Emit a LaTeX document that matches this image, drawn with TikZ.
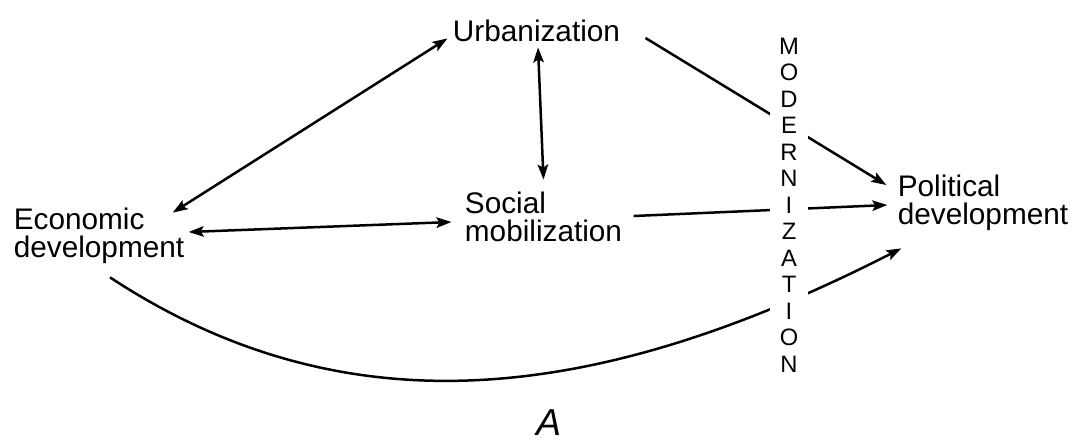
\documentclass[tikz,border=0pt]{standalone}
\usepackage{fontspec}
\setmainfont{Liberation Sans}
\usetikzlibrary{arrows.meta,calc}

\begin{document}
\begin{tikzpicture}[x=0.4pt,y=-0.4pt,>={Stealth[length=6pt,width=4.2pt,inset=1.2pt]},
  box/.style={inner sep=0pt,align=left,font=\fontsize{11.9}{11.2}\selectfont},
  link/.style={line width=1pt}]
  \useasboundingbox (0,0) rectangle (1071,440);
  \node[box] (urb) at (536.5,31) {Urbanization};
  \node[box] (soc) at (543.5,217) {Social\\mobilization};
  \node[box] (econ) at (99,236) {Economic\\development};
  \node[box] (pol) at (983,203) {Political\\development};
  \draw[link,<->] ($(urb.south west)+(-5,-4)$) -- ($(econ.north east)+(-12,5)$);
  \draw[link,<->] ($(urb.south)+(1.5,5)$) -- ($(soc.north)+(0,-12)$);
  \draw[link,<->] ($(econ.east)+(4,-4)$) -- ($(soc.west)+(-13,5)$);
  \draw[link,->] ($(urb.east)+(25,7)$) -- ($(pol.west)+(-11,-18)$);
  \draw[link,->] ($(soc.east)+(11,-1)$) -- ($(pol.west)+(-10,2)$);
  \draw[link,->] ($(econ.south)+(11,13)$) .. controls (350,435) and (602,401) .. ($(pol.south west)+(4,17)$);
  % the word cuts the arrows
  \node[fill=white,inner xsep=3.8pt,inner ysep=0pt,align=center,
    font=\fontsize{9.5}{10.6}\selectfont] (mod) at (789,205)
    {M\\O\\D\\E\\R\\N\\I\\Z\\A\\T\\I\\O\\N};
  \node[inner sep=0pt,font=\fontsize{15}{18}\selectfont\itshape] (caption) at (549,423) {A};
\end{tikzpicture}
\end{document}
